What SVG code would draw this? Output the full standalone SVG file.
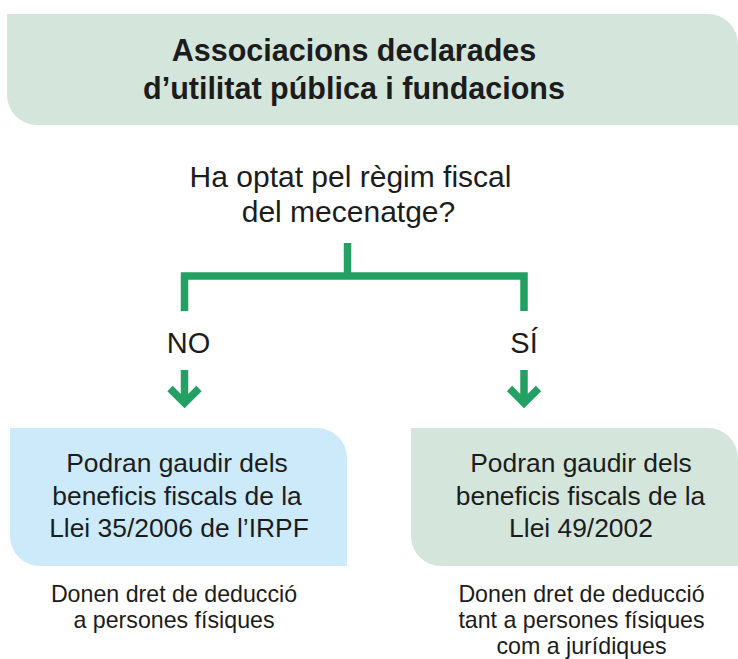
<svg xmlns="http://www.w3.org/2000/svg" width="738" height="659" viewBox="0 0 738 659">
  <style>
    .t { font-family: "Liberation Sans", Arial, sans-serif; fill: #1c1c1c; text-anchor: middle; }
    .title { font-size: 30.5px; font-weight: bold; }
    .q { font-size: 30px; }
    .lab { font-size: 29px; }
    .box { font-size: 26.4px; }
    .note { font-size: 23.2px; }
    .conn { fill: none; stroke: #23a064; stroke-width: 7.5; stroke-linejoin: miter; stroke-linecap: butt; }
  </style>
  <rect width="738" height="659" fill="#ffffff"/>
  <g id="top">
    <path d="M7,14 H708 A30,30 0 0 1 738,44 V125 H37 A30,30 0 0 1 7,95 Z" fill="#d4e6dc"/>
    <text class="t title" x="354" y="61">Associacions declarades</text>
    <text class="t title" x="354" y="99">d’utilitat pública i fundacions</text>
  </g>
  <g id="question">
    <text class="t q" x="350.5" y="187">Ha optat pel règim fiscal</text>
    <text class="t q" x="348.5" y="222">del mecenatge?</text>
  </g>
  <g id="connectors">
    <path class="conn" d="M347.5,243 V276"/>
    <path class="conn" d="M184.5,311 V276 H524 V311"/>
    <path class="conn" d="M184.5,370 V403 M170,388.5 L184.5,403 L199,388.5"/>
    <path class="conn" d="M524,370 V403 M509.5,388.5 L524,403 L538.5,388.5"/>
  </g>
  <g id="no">
    <text class="t lab" x="188.5" y="353">NO</text>
  </g>
  <g id="si">
    <text class="t lab" x="524" y="353">SÍ</text>
  </g>
  <g id="left-box">
    <path d="M10,428 H317 A30,30 0 0 1 347,458 V566 H40 A30,30 0 0 1 10,536 Z" fill="#cdeafb"/>
    <text class="t box" x="177" y="472">Podran gaudir dels</text>
    <text class="t box" x="177" y="504.5">beneficis fiscals de la</text>
    <text class="t box" x="179" y="537">Llei 35/2006 de l’IRPF</text>
  </g>
  <g id="right-box">
    <path d="M411,428 H708 A30,30 0 0 1 738,458 V566 H441 A30,30 0 0 1 411,536 Z" fill="#d4e6dc"/>
    <text class="t box" x="581" y="472">Podran gaudir dels</text>
    <text class="t box" x="580.5" y="504.5">beneficis fiscals de la</text>
    <text class="t box" x="581" y="537">Llei 49/2002</text>
  </g>
  <g id="left-note">
    <text class="t note" x="174" y="602">Donen dret de deducció</text>
    <text class="t note" x="174" y="628">a persones físiques</text>
  </g>
  <g id="right-note">
    <text class="t note" x="581.5" y="602">Donen dret de deducció</text>
    <text class="t note" x="581.5" y="628">tant a persones físiques</text>
    <text class="t note" x="581.5" y="654">com a jurídiques</text>
  </g>
</svg>
